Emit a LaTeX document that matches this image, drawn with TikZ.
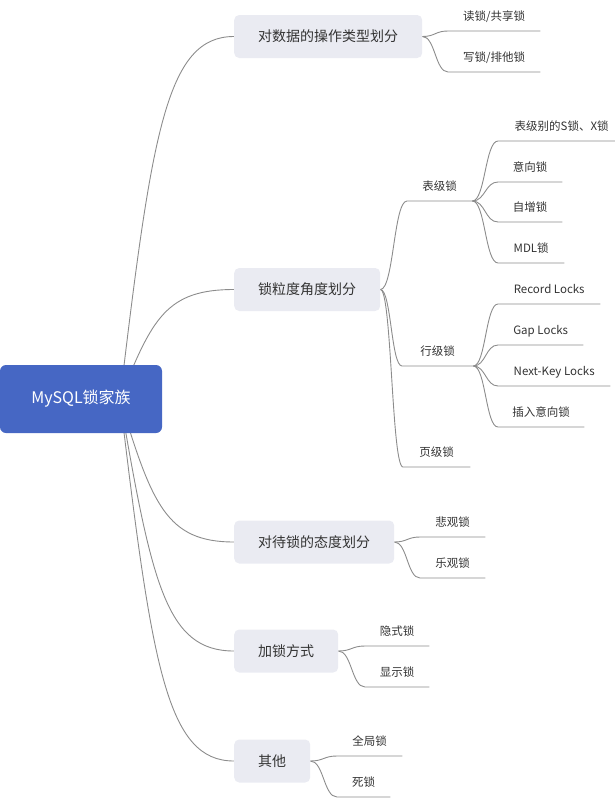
\documentclass[tikz,border=0pt]{standalone}
\usepackage{fontspec}
\setmainfont{Noto Sans CJK SC}
\usetikzlibrary{calc, positioning}
\definecolor{rootblue}{RGB}{70, 103, 196}
\definecolor{boxgray}{RGB}{234, 235, 242}
\definecolor{linegray}{RGB}{140, 140, 140}
\definecolor{textgray}{RGB}{51, 51, 51}
\pgfdeclarelayer{background}
\pgfsetlayers{background,main}

\tikzset{
  rootbox/.style={fill=rootblue, rounded corners=6pt, minimum width=162pt, minimum height=68pt,
    text=white, font=\fontsize{16}{18}\selectfont},
  topic/.style={fill=boxgray, rounded corners=5pt, anchor=west, minimum height=43pt,
    inner xsep=24pt, text=textgray, font=\fontsize{14}{16}\selectfont},
  leaf/.style={anchor=south west, minimum width=#1, inner xsep=0pt, inner ysep=8pt,
    text height=9pt, text depth=2.5pt, text=textgray, font=\fontsize{11.5}{13}\selectfont},
  conn/.style={draw=linegray, line width=0.9pt}
}

\begin{document}
\begin{tikzpicture}[x=1pt, y=-1pt]
    \useasboundingbox (0,0) rectangle (614,803);

    % 根节点
    \node[rootbox] (root) at (81,399) {MySQL锁家族};
    \coordinate (rootout) at (120,399);

    % 一级主题
    \node[topic] (op) at (234,36.5) {对数据的操作类型划分};
    \node[topic] (gran) at (234,289.5) {锁粒度角度划分};
    \node[topic] (att) at (234,542) {对待锁的态度划分};
    \node[topic] (way) at (234,651) {加锁方式};
    \node[topic] (other) at (234,761) {其他};

    % 分支
    \node[leaf=92pt] (read) at (448,31) {读锁/共享锁};
    \node[leaf=92pt] (write) at (448,72) {写锁/排他锁};

    \node[leaf=65pt] (tbl) at (407,201) {表级锁};
    \node[leaf=127pt] (tblsx) at (498,141) {表级别的S锁、X锁};
    \node[leaf=64pt] (intent) at (498,182) {意向锁};
    \node[leaf=64pt] (autoinc) at (498,222) {自增锁};
    \node[leaf=66pt] (mdl) at (498,263) {MDL锁};

    \node[leaf=71pt] (row) at (402,366) {行级锁};
    \node[leaf=102pt] (record) at (498,304) {Record Locks};
    \node[leaf=85pt] (gap) at (498,345) {Gap Locks};
    \node[leaf=112pt] (nextkey) at (498,386) {Next-Key Locks};
    \node[leaf=86pt] (insint) at (498,427) {插入意向锁};

    \node[leaf=67pt] (page) at (403,467) {页级锁};

    \node[leaf=65pt] (pess) at (420,537) {悲观锁};
    \node[leaf=65pt] (optim) at (420,578) {乐观锁};
    \node[leaf=64pt] (impl) at (365,646) {隐式锁};
    \node[leaf=64pt] (expl) at (365,687) {显示锁};
    \node[leaf=65pt] (glob) at (337,756) {全局锁};
    \node[leaf=53pt] (dead) at (337,797) {死锁};

    \begin{pgfonlayer}{background}
    % 根节点 -> 主题
    \foreach \dst in {op,gran,att,way,other}
      \draw[conn] let \p1=(rootout), \p2=(\dst.west) in
        (\p1) .. controls ({\x1+0.28*(\x2-\x1)},{\y1+0.74*(\y2-\y1)}) and ({\x1+0.41*(\x2-\x1)},\y2) .. (\p2);
    % 主题 -> 分支
    \foreach \src/\dst in {op/read, op/write, gran/tbl, gran/row, gran/page, att/pess, att/optim,
                           way/impl, way/expl, other/glob, other/dead}
      \draw[conn] let \p1=(\src.east), \p2=(\dst.south west) in
        (\p1) .. controls ({(\x1+\x2)/2},\y1) and ({(\x1+\x2)/2},\y2) .. (\p2) -- (\dst.south east);
    % 分支 -> 子分支
    \foreach \src/\dst in {tbl/tblsx, tbl/intent, tbl/autoinc, tbl/mdl,
                           row/record, row/gap, row/nextkey, row/insint}
      \draw[conn] let \p1=(\src.south east), \p2=(\dst.south west) in
        (\p1) .. controls ({(\x1+\x2)/2},\y1) and ({(\x1+\x2)/2},\y2) .. (\p2) -- (\dst.south east);
    \end{pgfonlayer}
\end{tikzpicture}
\end{document}
